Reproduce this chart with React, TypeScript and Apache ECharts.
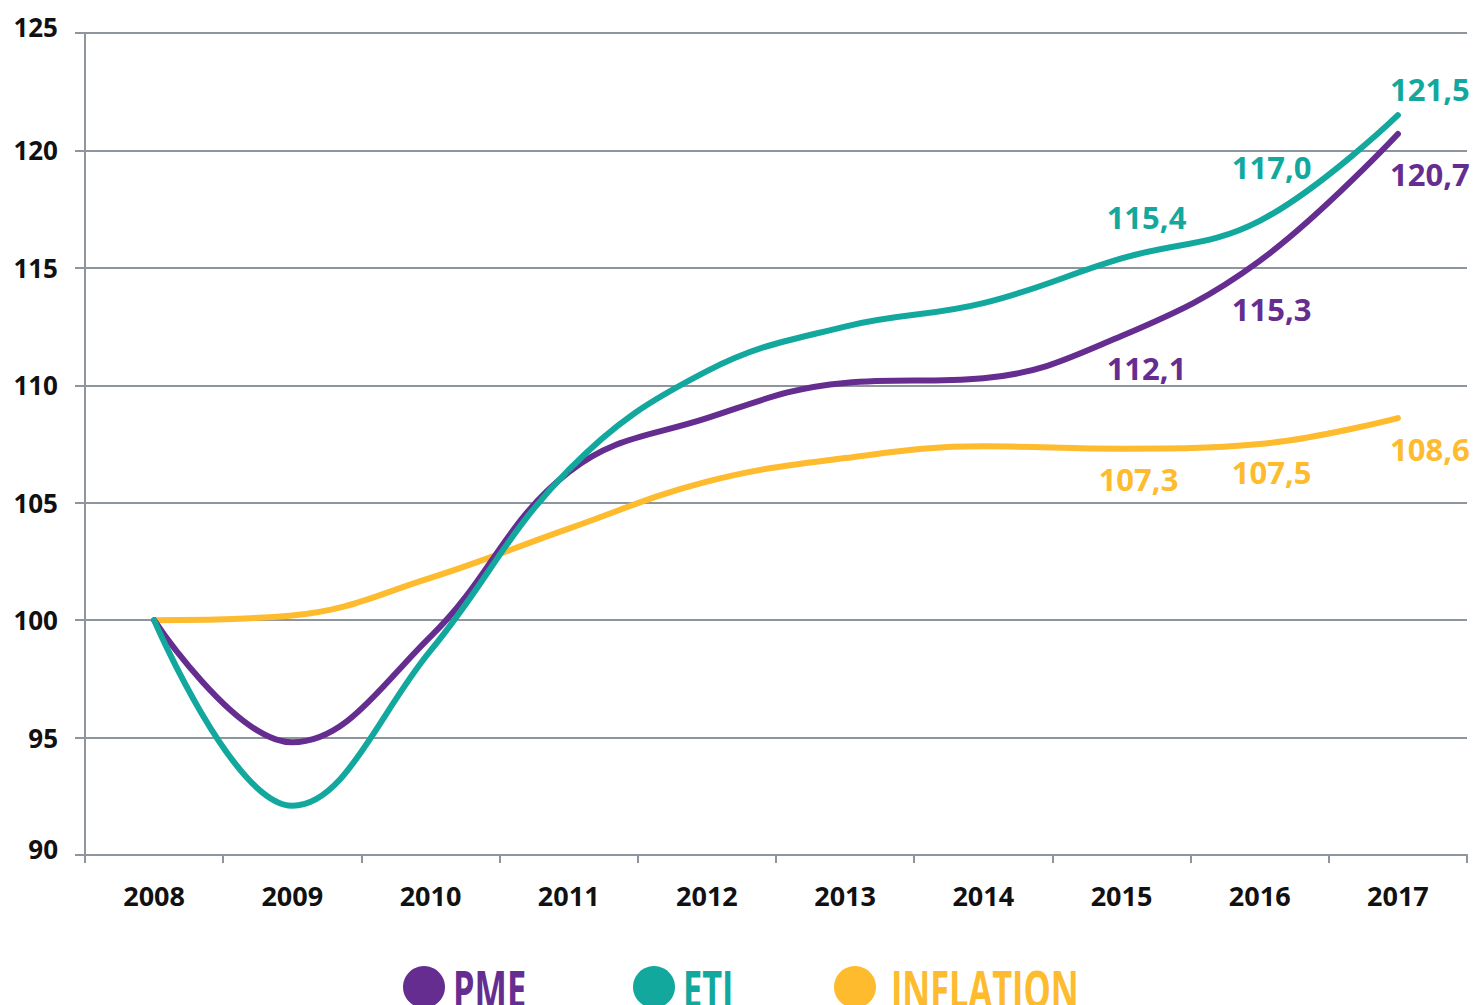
import React, { useEffect, useRef } from "react";
import * as echarts from "echarts";

const years = ["2008", "2009", "2010", "2011", "2012", "2013", "2014", "2015", "2016", "2017"];
const pme = [100, 94.8, 99.3, 106.3, 108.6, 110.1, 110.3, 112.1, 115.3, 120.7];
const eti = [100, 92.1, 98.7, 106.4, 110.6, 112.5, 113.5, 115.4, 117.0, 121.5];
const inflation = [100, 100.2, 101.8, 103.9, 105.9, 106.9, 107.4, 107.3, 107.5, 108.6];
const seriesNames = ["PME", "ETI", "INFLATION"];
const yMin = 90;
const yMax = 125;
const yStep = 5;

const PURPLE = "#662d91";
const TEAL = "#13a89e";
const YELLOW = "#fdbb2d";
const GRAY = "#8f959c";

// label offsets for labelled points (index -> [dx, dy])
const etiLabelOffsets: Record<number, number[]> = { 7: [25, -41], 8: [12, -54], 9: [32, -26] };
const pmeLabelOffsets: Record<number, number[]> = { 7: [25, 32], 8: [12, 48], 9: [32, 40] };
const infLabelOffsets: Record<number, number[]> = { 7: [17, 30], 8: [12, 28], 9: [32, 31] };

const fmt = (v: number) => v.toFixed(1).replace(".", ",");

function buildData(values: number[], offsets: Record<number, number[]>, color: string) {
  return values.map((v, i) => {
    const off = offsets[i];
    if (!off) return v;
    return {
      value: v,
      label: {
        show: true,
        position: "inside",
        offset: off,
        formatter: () => fmt(v),
        color,
        fontSize: 31,
        fontWeight: "bold",
        fontFamily: "Open Sans",
      },
    };
  });
}

const axisFont = { color: "#111111", fontSize: 26, fontWeight: "bold", fontFamily: "Open Sans" };

export default function App() {
  const ref = useRef<HTMLDivElement>(null);
  useEffect(() => {
    if (!ref.current) return;
    const chart = echarts.init(ref.current, undefined, { renderer: "svg" });
    const mkSeries = (name: string, values: number[], offsets: Record<number, number[]>, color: string) => ({
      name,
      type: "line",
      smooth: 0.4,
      symbol: "circle",
      symbolSize: 1,
      showSymbol: true,
      itemStyle: { color },
      lineStyle: { color, width: 6, cap: "round" },
      label: { show: false },
      data: buildData(values, offsets, color),
      z: 3,
    });
    const legendText = (x: number, text: string, fill: string) => ({
      type: "text",
      x,
      y: 988,
      scaleX: 0.66,
      style: { text, fill, fontSize: 52, fontWeight: "bold", fontFamily: "Open Sans", textAlign: "left", textVerticalAlign: "middle" },
    });
    chart.setOption({
      animation: false,
      backgroundColor: "#ffffff",
      grid: { left: 85, right: 11, top: 33, bottom: 150 },
      xAxis: {
        type: "category",
        data: years,
        boundaryGap: true,
        axisLine: { lineStyle: { color: GRAY, width: 2 } },
        axisTick: { show: true, length: 8, lineStyle: { color: GRAY, width: 2 } },
        axisLabel: { margin: 27, ...axisFont, fontSize: 27 },
      },
      yAxis: {
        type: "value",
        min: yMin,
        max: yMax,
        interval: yStep,
        axisLine: { show: true, lineStyle: { color: GRAY, width: 2 } },
        axisTick: { show: true, length: 10, lineStyle: { color: GRAY, width: 2 } },
        splitLine: { show: true, lineStyle: { color: GRAY, width: 2 } },
        axisLabel: {
          margin: 27,
          ...axisFont,
          formatter: (v: number) => (v === yMin || v === yMax ? `{up|${v}}` : `${v}`),
          rich: {
            up: { ...axisFont, padding: [0, 0, 12, 0] },
          },
        },
      },
      series: [
        mkSeries(seriesNames[2], inflation, infLabelOffsets, YELLOW),
        mkSeries(seriesNames[0], pme, pmeLabelOffsets, PURPLE),
        mkSeries(seriesNames[1], eti, etiLabelOffsets, TEAL),
      ],
      graphic: [
        { type: "circle", shape: { cx: 424, cy: 987, r: 21 }, style: { fill: PURPLE } },
        legendText(453, seriesNames[0], PURPLE),
        { type: "circle", shape: { cx: 654, cy: 987, r: 21 }, style: { fill: TEAL } },
        legendText(683, seriesNames[1], TEAL),
        { type: "circle", shape: { cx: 855, cy: 987, r: 21 }, style: { fill: YELLOW } },
        legendText(891, seriesNames[2], YELLOW),
      ],
    });
    return () => chart.dispose();
  }, []);
  return (
    <div
      ref={ref}
      style={{ position: "fixed", left: 0, top: 0, width: 1478, height: 1005, background: "#fff" }}
    />
  );
}
